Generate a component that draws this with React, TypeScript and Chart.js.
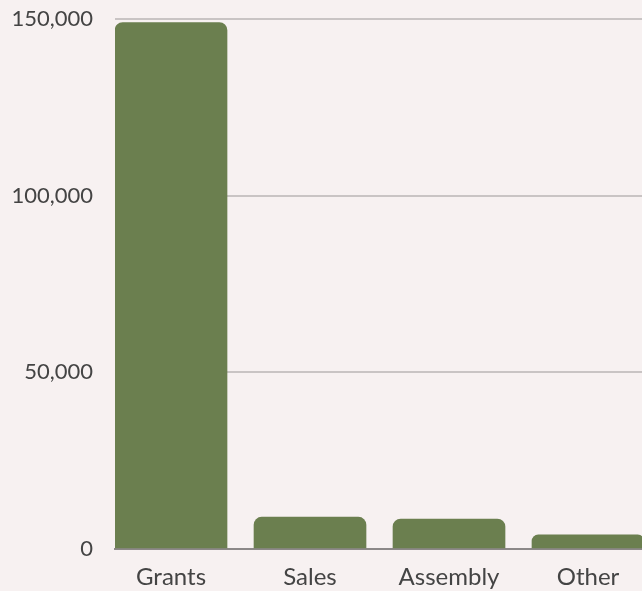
import React, { useEffect, useRef } from "react";
import { Chart, registerables } from "chart.js";

Chart.register(...registerables);

const categories = ["Grants", "Sales", "Assembly", "Other"];
const values = [149000, 9000, 8500, 4000];
const yTicks = [0, 50000, 100000, 150000];

const BG = "#f7f1f1";
const BAR = "#6b7f4f";
const TEXT = "#444444";
const FONT = "Lato, 'Open Sans', sans-serif";

export default function App() {
  const ref = useRef<HTMLCanvasElement | null>(null);

  useEffect(() => {
    document.body.style.margin = "0";
    const ctx = ref.current!;
    const chart = new Chart(ctx, {
      type: "bar",
      data: {
        datasets: [
          {
            data: categories.map((c, i) => ({ x: i, y: values[i] })),
            backgroundColor: BAR,
            borderRadius: { topLeft: 8, topRight: 8, bottomLeft: 0, bottomRight: 0 },
            borderSkipped: "bottom",
            barThickness: 112,
          },
        ],
      },
      options: {
        animation: false,
        responsive: false,
        maintainAspectRatio: false,
        layout: { padding: { top: 19, right: 0, bottom: 0, left: 0 } },
        plugins: { legend: { display: false }, tooltip: { enabled: false } },
        scales: {
          x: {
            type: "linear",
            offset: false,
            min: -0.403,
            max: 3.518,
            afterBuildTicks: (scale: any) => {
              scale.ticks = categories.map((_, i) => ({ value: i }));
            },
            afterFit: (scale: any) => {
              scale.height = 42;
              scale.paddingLeft = 0;
              scale.paddingRight = 0;
            },
            ticks: {
              callback: (v: any) => categories[v as number] ?? "",
              color: TEXT,
              font: { family: FONT, size: 24 },
              padding: 14,
              autoSkip: false,
              maxRotation: 0,
            },
            grid: { display: false, drawTicks: false, offset: false },
            border: { display: true, color: "#8c8888", width: 2 },
          },
          y: {
            min: 0,
            max: 150000,
            afterBuildTicks: (scale: any) => {
              scale.ticks = yTicks.map((v) => ({ value: v }));
            },
            afterFit: (scale: any) => {
              scale.width = 115;
              scale.paddingTop = 0;
              scale.paddingBottom = 0;
            },
            ticks: {
              callback: (v: any) => Number(v).toLocaleString("en-US"),
              color: TEXT,
              font: { family: FONT, size: 22 },
              padding: 22,
            },
            grid: { color: "#c9c4c4", lineWidth: 2, drawTicks: false },
            border: { display: false },
          },
        },
      },
      plugins: [
        {
          id: "bg",
          beforeDraw: (c: any) => {
            const g = c.ctx;
            g.save();
            g.fillStyle = BG;
            g.fillRect(0, 0, c.width, c.height);
            g.restore();
          },
        },
      ],
    });
    return () => chart.destroy();
  }, []);

  return (
    <div style={{ position: "relative", width: 642, height: 591, overflow: "hidden", background: BG }}>
      <canvas ref={ref} width={660} height={591} style={{ display: "block", width: 660, height: 591 }} />
    </div>
  );
}
